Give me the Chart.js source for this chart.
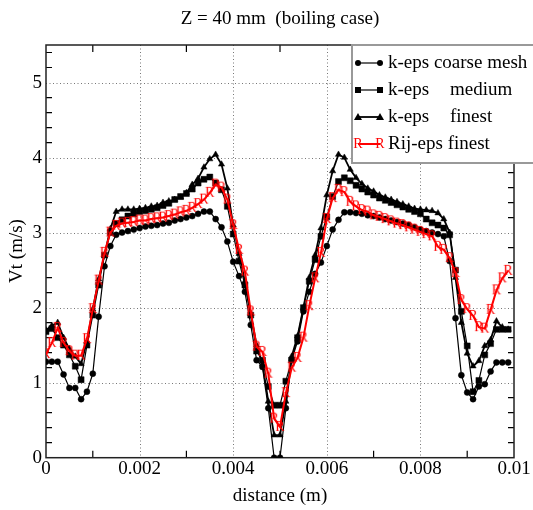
<!DOCTYPE html>
<html>
<head>
<meta charset="utf-8">
<script src="https://cdn.jsdelivr.net/npm/chart.js@4.4.0/dist/chart.umd.min.js"></script>
<style>
  html, body { margin: 0; padding: 0; background: #fff; }
  #wrap { width: 533px; height: 510px; }
</style>
</head>
<body>
<div id="wrap"><canvas id="myChart" width="533" height="510"></canvas></div>
<script>
// distance (m)
const distance = [
    0, 0.000125, 0.00025, 0.000375, 0.0005, 0.000625, 0.00075, 0.000875,
    0.001, 0.001125, 0.00125, 0.001375, 0.0015, 0.001625, 0.00175, 0.001875,
    0.002, 0.002125, 0.00225, 0.002375, 0.0025, 0.002625, 0.00275, 0.002875,
    0.003, 0.003125, 0.00325, 0.003375, 0.0035, 0.003625, 0.00375, 0.003875,
    0.004, 0.004125, 0.00425, 0.004375, 0.0045, 0.004625, 0.00475, 0.004875,
    0.005, 0.005125, 0.00525, 0.005375, 0.0055, 0.005625, 0.00575, 0.005875,
    0.006, 0.006125, 0.00625, 0.006375, 0.0065, 0.006625, 0.00675, 0.006875,
    0.007, 0.007125, 0.00725, 0.007375, 0.0075, 0.007625, 0.00775, 0.007875,
    0.008, 0.008125, 0.00825, 0.008375, 0.0085, 0.008625, 0.00875, 0.008875,
    0.009, 0.009125, 0.00925, 0.009375, 0.0095, 0.009625, 0.00975, 0.009875
];

// Vt (m/s)
const kepsCoarse = [
    1.28, 1.28, 1.28, 1.11, 0.93, 0.93, 0.78, 0.88,
    1.12, 1.88, 2.55, 2.82, 2.97, 3.00, 3.02, 3.04,
    3.06, 3.08, 3.09, 3.10, 3.12, 3.13, 3.16, 3.18,
    3.20, 3.22, 3.25, 3.28, 3.28, 3.18, 3.07, 2.88,
    2.61, 2.42, 2.21, 1.77, 1.30, 1.21, 0.66, 0.00,
    0.00, 0.66, 1.30, 1.55, 1.95, 2.21, 2.45, 2.60,
    2.82, 3.04, 3.17, 3.27, 3.27, 3.26, 3.25, 3.23,
    3.22, 3.20, 3.18, 3.16, 3.14, 3.12, 3.10, 3.07,
    3.04, 3.02, 3.00, 2.98, 2.95, 2.62, 1.86, 1.10,
    0.87, 0.78, 0.95, 0.98, 1.15, 1.27, 1.27, 1.27
];
const kepsMedium = [
    1.68, 1.72, 1.60, 1.50, 1.37, 1.22, 1.04, 1.50,
    1.90, 2.30, 2.70, 3.00, 3.12, 3.17, 3.22, 3.25,
    3.28, 3.29, 3.31, 3.33, 3.36, 3.39, 3.44, 3.48,
    3.52, 3.58, 3.66, 3.71, 3.74, 3.66, 3.57, 3.35,
    2.98, 2.62, 2.30, 1.90, 1.42, 1.30, 0.95, 0.70,
    0.70, 1.02, 1.30, 1.60, 2.00, 2.35, 2.64, 2.95,
    3.21, 3.48, 3.68, 3.73, 3.69, 3.63, 3.58, 3.54,
    3.50, 3.46, 3.43, 3.40, 3.37, 3.34, 3.31, 3.28,
    3.25, 3.18, 3.13, 3.10, 3.06, 2.97, 2.50, 1.95,
    1.49, 0.88, 1.03, 1.37, 1.52, 1.71, 1.71, 1.71
];
const kepsFinest = [
    1.70, 1.76, 1.80, 1.60, 1.45, 1.35, 1.25, 1.55,
    1.98, 2.38, 2.70, 3.05, 3.28, 3.31, 3.31, 3.31,
    3.32, 3.33, 3.35, 3.36, 3.40, 3.42, 3.44, 3.47,
    3.53, 3.64, 3.72, 3.87, 3.98, 4.04, 3.91, 3.59,
    3.10, 2.72, 2.35, 1.92, 1.50, 1.25, 0.75, 0.30,
    0.30, 0.75, 1.35, 1.62, 2.00, 2.40, 2.70, 3.06,
    3.50, 3.82, 4.04, 4.00, 3.84, 3.73, 3.65, 3.59,
    3.55, 3.50, 3.47, 3.44, 3.41, 3.38, 3.35, 3.32,
    3.31, 3.30, 3.29, 3.26, 3.18, 3.00, 2.40, 1.80,
    1.39, 1.22, 1.29, 1.49, 1.57, 1.82, 1.74, 1.71
];
const rijFinest = [
    1.38, 1.53, 1.73, 1.53, 1.42, 1.36, 1.36, 1.58,
    1.98, 2.36, 2.73, 3.00, 3.09, 3.12, 3.13, 3.14,
    3.16, 3.16, 3.18, 3.19, 3.20, 3.22, 3.24, 3.27,
    3.29, 3.33, 3.38, 3.44, 3.53, 3.64, 3.60, 3.44,
    3.10, 2.77, 2.48, 1.95, 1.48, 1.41, 1.12, 0.52,
    0.41, 0.86, 1.20, 1.33, 1.60, 2.02, 2.39, 2.73,
    3.18, 3.46, 3.57, 3.54, 3.41, 3.35, 3.30, 3.28,
    3.23, 3.21, 3.18, 3.15, 3.12, 3.10, 3.07, 3.04,
    3.01, 2.98, 2.95, 2.81, 2.77, 2.66, 2.46, 2.10,
    1.98, 1.89, 1.74, 1.72, 1.97, 2.23, 2.39, 2.49
];

const xTicks = [0, 0.002, 0.004, 0.006, 0.008, 0.01];
const xTickLabels = ["0", "0.002", "0.004", "0.006", "0.008", "0.01"];
const yTicks = [0, 1, 2, 3, 4, 5];
const yTickLabels = ["0", "1", "2", "3", "4", "5"];

const FONT = '"Liberation Serif", "Times New Roman", serif';

function toPoints(ys) {
    return ys.map((y, i) => ({ x: distance[i], y: y }));
}

// red "R" marker
function makeRMarker() {
    const c = document.createElement('canvas');
    c.width = 12;
    c.height = 14;
    const g = c.getContext('2d');
    g.fillStyle = 'rgb(255,0,0)';
    g.font = '14px ' + FONT;
    g.textAlign = 'center';
    g.textBaseline = 'middle';
    g.fillText('R', 6, 7.5);
    return c;
}
const rMarker = makeRMarker();

// grid, inside ticks and frame
const framePlugin = {
    id: 'frame',
    beforeDatasetsDraw(chart) {
        const ctx = chart.ctx;
        const a = chart.chartArea;
        const xs = chart.scales.x;
        const ys = chart.scales.y;
        ctx.save();
        // dotted grid
        ctx.strokeStyle = '#777';
        ctx.lineWidth = 1;
        ctx.setLineDash([1, 2.5]);
        xTicks.forEach(v => {
            if (v <= 0 || v >= 0.01) return;
            const px = Math.round(xs.getPixelForValue(v)) + 0.5;
            ctx.beginPath();
            ctx.moveTo(px, a.top);
            ctx.lineTo(px, a.bottom);
            ctx.stroke();
        });
        yTicks.forEach(v => {
            if (v <= 0) return;
            const py = Math.round(ys.getPixelForValue(v)) + 0.5;
            ctx.beginPath();
            ctx.moveTo(a.left, py);
            ctx.lineTo(a.right, py);
            ctx.stroke();
        });
        ctx.setLineDash([]);
        // minor ticks inside, all four sides
        ctx.strokeStyle = '#000';
        ctx.lineWidth = 1.2;
        for (let k = 1; k <= 9; k += 2) {
            const px = xs.getPixelForValue(k * 0.001);
            ctx.beginPath();
            ctx.moveTo(px, a.bottom);
            ctx.lineTo(px, a.bottom - 7);
            ctx.moveTo(px, a.top);
            ctx.lineTo(px, a.top + 7);
            ctx.stroke();
        }
        for (let k = 1; k < 28; k++) {
            if (k % 5 === 0) continue;
            const py = ys.getPixelForValue(k * 0.2);
            ctx.beginPath();
            ctx.moveTo(a.left, py);
            ctx.lineTo(a.left + 6, py);
            ctx.moveTo(a.right, py);
            ctx.lineTo(a.right - 6, py);
            ctx.stroke();
        }
        // frame
        ctx.lineWidth = 1.5;
        ctx.strokeStyle = '#222';
        ctx.strokeRect(a.left, a.top, a.right - a.left, a.bottom - a.top);
        ctx.restore();
    },
    afterDraw(chart) {
        const ctx = chart.ctx;
        ctx.save();
        ctx.fillStyle = '#000';
        ctx.font = '19px ' + FONT;
        ctx.textAlign = 'center';
        ctx.textBaseline = 'middle';
        ctx.fillText('Z = 40 mm  (boiling case)', 280, 19);
        ctx.fillText('distance (m)', 280, 496);
        ctx.save();
        ctx.translate(17, 251);
        ctx.rotate(-Math.PI / 2);
        ctx.fillText('Vt (m/s)', 0, 0);
        ctx.restore();

        // legend box
        ctx.fillStyle = '#fff';
        ctx.fillRect(352, 45, 200, 118);
        ctx.strokeStyle = '#999';
        ctx.lineWidth = 2;
        ctx.strokeRect(352, 45, 200, 118);

        const rows = [
            { y: 63, color: '#000', width: 1.2, marker: 'circle', a: 'k-eps coarse mesh', b: '' },
            { y: 90, color: '#000', width: 1.2, marker: 'square', a: 'k-eps', b: 'medium' },
            { y: 117, color: '#000', width: 1.8, marker: 'triangle', a: 'k-eps', b: 'finest' },
            { y: 144, color: 'rgb(255,0,0)', width: 2, marker: 'R', a: 'Rij-eps finest', b: '' }
        ];
        rows.forEach(r => {
            ctx.strokeStyle = r.color;
            ctx.lineWidth = r.width;
            ctx.beginPath();
            ctx.moveTo(358, r.y);
            ctx.lineTo(380, r.y);
            ctx.stroke();
            [358, 380].forEach(mx => drawMarker(ctx, r.marker, mx, r.y));
            ctx.fillStyle = '#000';
            ctx.textAlign = 'left';
            ctx.fillText(r.a, 388, r.y);
            if (r.b) ctx.fillText(r.b, 450, r.y);
        });
        ctx.restore();
    }
};

function drawMarker(ctx, kind, x, y) {
    ctx.fillStyle = '#000';
    if (kind === 'circle') {
        ctx.beginPath();
        ctx.arc(x, y, 3, 0, Math.PI * 2);
        ctx.fill();
    } else if (kind === 'square') {
        ctx.fillRect(x - 3, y - 3, 6, 6);
    } else if (kind === 'triangle') {
        ctx.beginPath();
        ctx.moveTo(x, y - 4);
        ctx.lineTo(x + 4, y + 3);
        ctx.lineTo(x - 4, y + 3);
        ctx.closePath();
        ctx.fill();
    } else {
        ctx.drawImage(rMarker, x - 6, y - 7);
    }
}

const ctx = document.getElementById('myChart').getContext('2d');
new Chart(ctx, {
    type: 'scatter',
    data: {
        datasets: [
            {
                label: 'Rij-eps finest',
                data: toPoints(rijFinest),
                showLine: true,
                borderColor: 'rgb(255,0,0)',
                borderWidth: 2,
                pointStyle: rMarker,
                pointRadius: 5,
                order: 0
            },
            {
                label: 'k-eps finest',
                data: toPoints(kepsFinest),
                showLine: true,
                borderColor: '#000',
                borderWidth: 1.8,
                pointStyle: 'triangle',
                pointRadius: 3.6,
                pointBackgroundColor: '#000',
                pointBorderColor: '#000',
                pointBorderWidth: 0.5,
                order: 1
            },
            {
                label: 'k-eps medium',
                data: toPoints(kepsMedium),
                showLine: true,
                borderColor: '#000',
                borderWidth: 1.2,
                pointStyle: 'rect',
                pointRadius: 4.2,
                pointBackgroundColor: '#000',
                pointBorderColor: '#000',
                pointBorderWidth: 0.5,
                order: 2
            },
            {
                label: 'k-eps coarse mesh',
                data: toPoints(kepsCoarse),
                showLine: true,
                borderColor: '#000',
                borderWidth: 1.2,
                pointStyle: 'circle',
                pointRadius: 3,
                pointBackgroundColor: '#000',
                pointBorderColor: '#000',
                pointBorderWidth: 0.5,
                order: 3
            }
        ]
    },
    options: {
        responsive: false,
        animation: false,
        devicePixelRatio: 1,
        layout: { padding: { top: 45, right: 19, left: 0, bottom: 0 } },
        plugins: {
            legend: { display: false },
            title: { display: false },
            tooltip: { enabled: false }
        },
        scales: {
            x: {
                type: 'linear',
                min: 0,
                max: 0.01,
                afterBuildTicks: s => { s.ticks = xTicks.map(v => ({ value: v })); },
                afterFit: s => { s.height = 52.3; },
                ticks: {
                    callback: (v, i) => xTickLabels[i],
                    font: { family: FONT, size: 19 },
                    color: '#000',
                    maxRotation: 0,
                    autoSkip: false,
                    padding: 0
                },
                grid: { display: false, drawTicks: false },
                border: { display: false }
            },
            y: {
                type: 'linear',
                min: 0,
                max: 5.5,
                afterBuildTicks: s => { s.ticks = yTicks.map(v => ({ value: v })); },
                afterFit: s => { s.width = 46; },
                ticks: {
                    callback: (v, i) => yTickLabels[i],
                    font: { family: FONT, size: 19 },
                    color: '#000',
                    autoSkip: false,
                    padding: 4
                },
                grid: { display: false, drawTicks: false },
                border: { display: false }
            }
        }
    },
    plugins: [framePlugin]
});
</script>
</body>
</html>
